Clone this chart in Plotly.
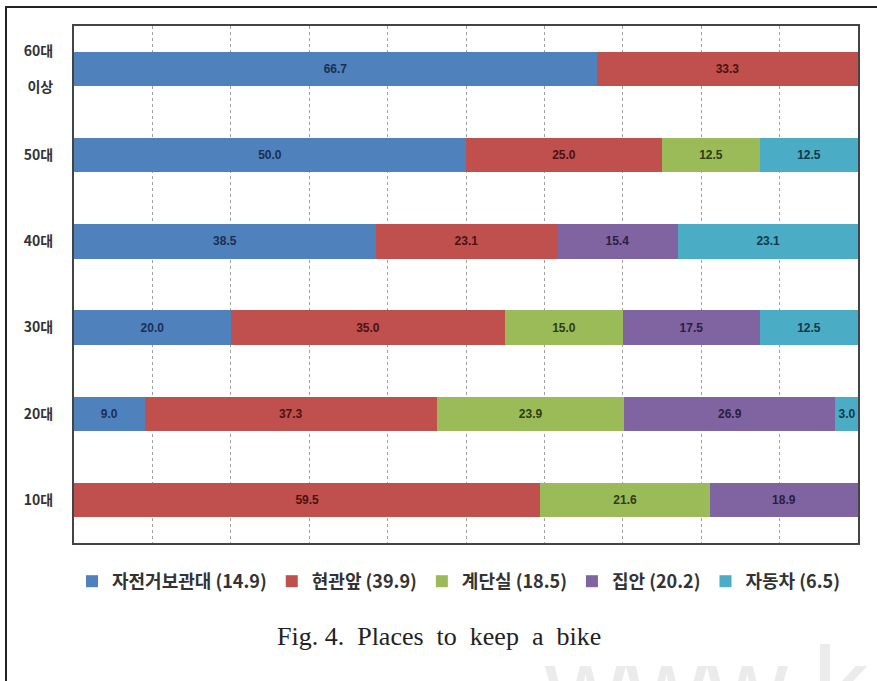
import plotly.graph_objects as go

# Age groups (bottom to top on the chart)
age_groups = ["10대", "20대", "30대", "40대", "50대", "60대<br> <br>이상"]

# Share (%) of each storage place per age group
series_names = ["자전거보관대", "현관앞", "계단실", "집안", "자동차"]
series_totals = [14.9, 39.9, 18.5, 20.2, 6.5]
bike_rack = [0.0, 9.0, 20.0, 38.5, 50.0, 66.7]
front_door = [59.5, 37.3, 35.0, 23.1, 25.0, 33.3]
stairwell = [21.6, 23.9, 15.0, 0.0, 12.5, 0.0]
inside_home = [18.9, 26.9, 17.5, 15.4, 0.0, 0.0]
car = [0.0, 3.0, 12.5, 23.1, 12.5, 0.0]

series_values = [bike_rack, front_door, stairwell, inside_home, car]
bar_colors = ["#4F81BD", "#C0504D", "#9BBB59", "#8064A2", "#4BACC6"]
label_colors = ["#1B2F52", "#4A1212", "#2E3D12", "#2A1E40", "#10394A"]

W, H = 877, 681
ML, MR, MT, MB = 74, 19, 26, 138
PW, PH = W - ML - MR, H - MT - MB

KR = "Noto Sans CJK KR, Noto Sans, sans-serif"

fig = go.Figure()
for name, total, vals, col, lcol in zip(series_names, series_totals,
                                         series_values, bar_colors, label_colors):
    fig.add_trace(go.Bar(
        y=age_groups,
        x=vals,
        orientation="h",
        name=f"{name} ({total})",
        marker=dict(color=col, line=dict(width=0)),
        text=[f"{v:.1f}" if v > 0 else "" for v in vals],
        textposition="inside",
        insidetextanchor="middle",
        textangle=0,
        constraintext="none",
        textfont=dict(family="Liberation Sans, Arial, sans-serif", size=12,
                      color=lcol, weight="bold"),
        hoverinfo="skip",
    ))

# pixel -> paper conversion helpers
def px_x(p):
    return (p - ML) / PW

def px_y(p):
    return (H - MB - p) / PH

# outer frame around the figure panel
shapes = [dict(type="rect", xref="paper", yref="paper",
               x0=px_x(6), x1=px_x(W + 10), y0=px_y(H + 10), y1=px_y(7),
               line=dict(color="#222222", width=2), fillcolor="rgba(0,0,0,0)",
               layer="above")]

annotations = [
    dict(text="www.k", xref="paper", yref="paper",
         x=px_x(542), y=px_y(622), xanchor="left", yanchor="top",
         showarrow=False,
         font=dict(family="Liberation Sans, Arial, sans-serif", size=112,
                   color="#ebebeb")),
    dict(text="Fig. 4.  Places  to  keep  a  bike", xref="paper", yref="paper",
         x=px_x(439), y=px_y(636), xanchor="center", yanchor="middle",
         showarrow=False,
         font=dict(family="Liberation Serif, Times New Roman, serif", size=26,
                   color="#222222")),
]

fig.update_layout(
    width=W, height=H,
    margin=dict(l=ML, r=MR, t=MT, b=MB),
    barmode="stack",
    bargap=0.6,
    paper_bgcolor="white",
    plot_bgcolor="white",
    showlegend=True,
    legend=dict(orientation="h", x=px_x(72), y=px_y(563), xanchor="left",
                yanchor="top", traceorder="normal",
                font=dict(family=KR, size=18, color="#333333", weight="bold"),
                itemwidth=30, bgcolor="rgba(0,0,0,0)"),
    xaxis=dict(range=[0, 100], dtick=10, showticklabels=False,
               showgrid=True, gridcolor="#a0a0a0", griddash="dot", gridwidth=1,
               showline=True, linecolor="#444444", linewidth=2, mirror=True,
               zeroline=False, ticks=""),
    yaxis=dict(categoryorder="array", categoryarray=age_groups,
               showgrid=False, showline=True, linecolor="#444444", linewidth=2,
               mirror=True, ticks="", ticklabelstandoff=16,
               tickfont=dict(family=KR, size=14, color="#333333", weight="bold")),
    shapes=shapes,
    annotations=annotations,
)

fig.write_html("out.html")
